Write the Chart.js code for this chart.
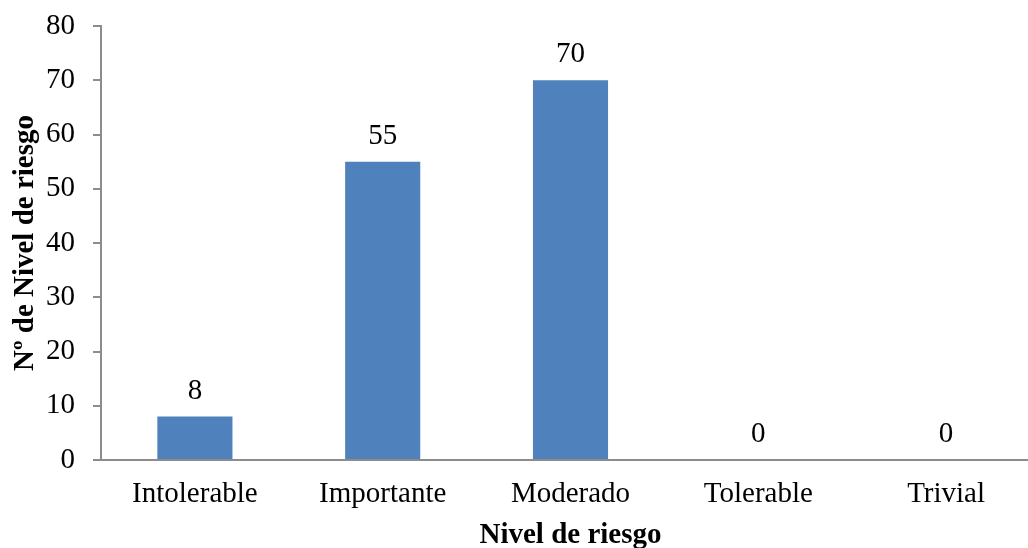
<!DOCTYPE html>
<html>
<head>
<meta charset="utf-8">
<script src="https://cdn.jsdelivr.net/npm/chart.js@4"></script>
<style>
 html, body { margin:0; padding:0; background:#fff; overflow:hidden; }
 #wrap { width:1040px; height:548px; }
</style>
</head>
<body>
<div id="wrap"><canvas id="chart" width="1040" height="548"></canvas></div>
<script>
var categories = ["Intolerable", "Importante", "Moderado", "Tolerable", "Trivial"];
var values = [8, 55, 70, 0, 0];
var yTicks = [0, 10, 20, 30, 40, 50, 60, 70, 80];

var font = "'Liberation Serif', 'Times New Roman', serif";

// numbers above the bars
var valueLabels = {
	id : "valueLabels",
	afterDatasetsDraw : function(chart){
		var ctx = chart.ctx;
		var meta = chart.getDatasetMeta(0);
		ctx.save();
		ctx.font = "29px " + font;
		ctx.fillStyle = "#000";
		ctx.textAlign = "center";
		ctx.textBaseline = "bottom";
		meta.data.forEach(function(bar, i){
			ctx.fillText(values[i], bar.x, bar.y - 11);
		});
		ctx.restore();
	}
};

var ctx1 = document.getElementById("chart");

var chart1 = new Chart(ctx1, {
	type : "bar",
	data : {
		labels : categories,
		datasets : [{
			data : values,
			backgroundColor : "#4F81BD",
			barPercentage : 0.8,
			categoryPercentage : 0.5
		}]
	},
	options : {
		responsive : false,
		animation : false,
		layout : { padding : { top : 26, left : 0, right : 0, bottom : 0 } },
		plugins : { legend : { display : false }, tooltip : { enabled : false } },
		scales : {
			x : {
				grid : { display : false, drawTicks : false },
				border : { color : "#8c8c8c", width : 2 },
				ticks : { color : "#000", font : { family : font, size : 29 }, padding : 17 },
				title : { display : true, text : "Nivel de riesgo", color : "#000",
					font : { family : font, size : 29, weight : "bold" }, padding : { top : 4, bottom : -5 } },
				afterFit : function(s){ s.height = 88; s.paddingLeft = 0; s.paddingRight = 0; }
			},
			y : {
				min : 0, max : 80,
				afterBuildTicks : function(s){ s.ticks = yTicks.map(function(v){ return { value : v }; }); },
				grid : { display : true, drawOnChartArea : false, drawTicks : true, tickLength : 8, color : "#8c8c8c", lineWidth : 2 },
				border : { color : "#8c8c8c", width : 2 },
				ticks : { color : "#000", font : { family : font, size : 29 }, padding : 18 },
				title : { display : true, text : "Nº de Nivel de riesgo", color : "#000",
					font : { family : font, size : 29, weight : "bold" }, padding : { top : 8, bottom : 0 } },
				afterFit : function(s){ s.width = 101; s.paddingTop = 0; s.paddingBottom = 0; }
			}
		}
	},
	plugins : [valueLabels]
});
</script>
</body>
</html>
